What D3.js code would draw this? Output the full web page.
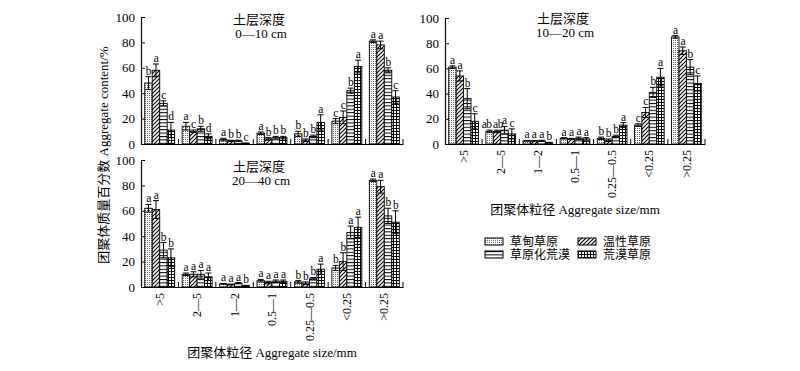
<!DOCTYPE html>
<html>
<head>
<meta charset="utf-8">
<script src="https://cdn.jsdelivr.net/npm/d3@7"></script>
<style>
body { margin: 0; background: #fff; }
text { font-family: "Liberation Serif", "Noto Sans CJK SC", serif; fill: #000; }
</style>
</head>
<body>
<svg id="drawing_region" width="800" height="371"></svg>
<script>
// categories
const sizes = [">5", "2—5", "1—2", "0.5—1", "0.25—0.5", "<0.25", ">0.25"];
const types = ["草甸草原", "温性草原", "草原化荒漠", "荒漠草原"];
const depths = ["0—10 cm", "10—20 cm", "20—40 cm"];
const yticks = [0, 20, 40, 60, 80, 100];

// 0-10 cm, one row per grassland type
const val_0_10 = [
    [48, 14, 3.5, 8.5, 8, 18, 81],
    [58, 10, 2.5, 4, 3, 21, 78],
    [32, 12, 2.5, 5, 6, 42, 58],
    [11, 6, 0.5, 5, 17, 61, 37]
];
const err_0_10 = [
    [5, 3, 1, 1, 2, 2, 1],
    [5, 1, 0.5, 1, 1, 5, 3],
    [2, 2, 0.5, 1, 1, 2, 2],
    [6, 2, 0.3, 1, 6, 5, 5]
];
const sig_0_10 = [
    ["b", "a", "a", "a", "b", "c", "a"],
    ["a", "c", "b", "b", "b", "c", "a"],
    ["c", "b", "b", "b", "b", "b", "b"],
    ["d", "d", "c", "b", "a", "a", "c"]
];

// 10-20 cm
const val_10_20 = [
    [61, 10, 2.5, 4.5, 4.5, 15, 85],
    [54, 10, 2.5, 4, 3, 25, 74],
    [36, 11, 2.5, 4.5, 6, 41, 61],
    [18, 8, 1, 4, 15, 53, 48]
];
const err_10_20 = [
    [1, 1, 0.3, 0.5, 1, 1, 1],
    [4, 1, 0.3, 0.5, 1, 4, 3],
    [8, 3, 0.5, 1, 1, 4, 6],
    [6, 4, 0.3, 1, 2, 7, 6]
];
const sig_10_20 = [
    ["a", "ab", "a", "a", "b", "c", "a"],
    ["a", "ab", "a", "a", "b", "c", "a"],
    ["b", "a", "a", "a", "b", "b", "b"],
    ["c", "c", "b", "a", "a", "a", "c"]
];

// 20-40 cm
const val_20_40 = [
    [62, 10, 2.5, 5, 4, 15, 84],
    [61, 10, 2, 3.5, 3, 20, 79],
    [29, 10, 3, 4.5, 6.5, 43, 56],
    [23, 8, 1, 4.5, 14, 47, 51]
];
const err_20_40 = [
    [3, 1, 0.3, 1, 1, 2, 1],
    [7, 2, 0.3, 1, 1, 7, 5],
    [6, 3, 0.5, 1, 1, 5, 6],
    [7, 3, 0.3, 1, 4, 8, 9]
];
const sig_20_40 = [
    ["a", "a", "a", "a", "b", "b", "a"],
    ["a", "a", "a", "a", "b", "b", "a"],
    ["b", "a", "a", "a", "b", "a", "b"],
    ["b", "a", "b", "a", "a", "a", "b"]
];

var svg = d3.select('#drawing_region');
var defs = svg.append('defs');

// fill patterns for the 4 types
function makePattern(id, w, h, draw) {
    var p = defs.append('pattern')
        .attr('id', id)
        .attr('patternUnits', 'userSpaceOnUse')
        .attr('width', w)
        .attr('height', h);
    p.append('rect').attr('width', w).attr('height', h).attr('fill', '#fff');
    draw(p);
}
makePattern('pat0', 2, 2, p => {
    p.append('rect').attr('x', 0).attr('y', 0).attr('width', 1).attr('height', 1).attr('fill', '#666');
});
makePattern('pat1', 4, 4, p => {
    p.append('path').attr('d', 'M-1,1 L1,-1 M0,4 L4,0 M3,5 L5,3')
        .attr('stroke', '#000').attr('stroke-width', 1.1);
});
makePattern('pat2', 4, 3.4, p => {
    p.append('line').attr('x1', 0).attr('x2', 4).attr('y1', 0.5).attr('y2', 0.5)
        .attr('stroke', '#000').attr('stroke-width', 1);
});
makePattern('pat3', 3, 3, p => {
    p.append('path').attr('d', 'M0,0.5 H3 M0.5,0 V3')
        .attr('stroke', '#000').attr('stroke-width', 1);
});
const fills = types.map((t, i) => `url(#pat${i})`);

const panels = [
    { depth: depths[0], vals: val_0_10, errs: err_0_10, sigs: sig_0_10, left: 141, top: 17, w: 262, h: 127, titleY: 24, ticks: false },
    { depth: depths[1], vals: val_10_20, errs: err_10_20, sigs: sig_10_20, left: 445, top: 18, w: 260, h: 126, titleY: 23, ticks: true },
    { depth: depths[2], vals: val_20_40, errs: err_20_40, sigs: sig_20_40, left: 141, top: 160, w: 262, h: 127, titleY: 171, ticks: true }
];

panels.forEach(pn => {
    var chart = svg.append('g')
        .attr('transform', `translate(${pn.left}, ${pn.top})`);

    const xscale = d3.scaleBand()
        .domain(sizes)
        .range([0, pn.w]);

    const x1 = d3.scaleBand()
        .domain(types)
        .range([0, xscale.bandwidth()])
        .paddingOuter(0.5);

    const yscale = d3.scaleLinear()
        .domain([0, 100])
        .range([pn.h, 0]);

    // rows of {size, type, value, err, sig}
    var rows = [];
    types.forEach((t, ti) => {
        sizes.forEach((s, si) => {
            rows.push({ size: s, type: t, ti: ti, value: pn.vals[ti][si], err: pn.errs[ti][si], sig: pn.sigs[ti][si] });
        });
    });

    chart.selectAll('rect.bar')
        .data(rows)
        .join('rect')
        .attr('class', 'bar')
        .attr('x', d => xscale(d.size) + x1(d.type))
        .attr('y', d => yscale(d.value))
        .attr('width', x1.bandwidth())
        .attr('height', d => pn.h - yscale(d.value))
        .attr('fill', d => fills[d.ti])
        .attr('stroke', '#000')
        .attr('stroke-width', 0.9);

    // error bars
    var eb = chart.selectAll('g.err')
        .data(rows)
        .join('g')
        .attr('class', 'err')
        .attr('transform', d => `translate(${xscale(d.size) + x1(d.type) + x1.bandwidth() / 2}, 0)`);
    eb.append('line')
        .attr('y1', d => yscale(Math.max(0, d.value - d.err)))
        .attr('y2', d => yscale(d.value + d.err))
        .attr('stroke', '#000').attr('stroke-width', 1);
    eb.append('line')
        .attr('x1', -3).attr('x2', 3)
        .attr('y1', d => yscale(d.value + d.err))
        .attr('y2', d => yscale(d.value + d.err))
        .attr('stroke', '#000').attr('stroke-width', 1);
    eb.append('line')
        .attr('x1', -3).attr('x2', 3)
        .attr('y1', d => yscale(Math.max(0, d.value - d.err)))
        .attr('y2', d => yscale(Math.max(0, d.value - d.err)))
        .attr('stroke', '#000').attr('stroke-width', 1);

    // significance letters (two-letter marks nudged apart)
    chart.selectAll('text.sig')
        .data(rows)
        .join('text')
        .attr('class', 'sig')
        .attr('x', d => xscale(d.size) + x1(d.type) + x1.bandwidth() / 2)
        .attr('y', d => yscale(d.value + d.err) - 2)
        .attr('dx', d => d.sig.length > 1 ? (d.ti < 1 ? -3 : 1) : 0)
        .attr('text-anchor', 'middle')
        .attr('font-size', 11.5)
        .attr('letter-spacing', -0.5)
        .text(d => d.sig);

    // y axis
    const yaxis = d3.axisLeft(yscale)
        .tickValues(yticks)
        .tickSize(-4)
        .tickPadding(6)
        .tickSizeOuter(0);
    const yaxis_group = chart.append('g').call(yaxis);
    yaxis_group.select('.domain').attr('stroke-width', 1.2);
    yaxis_group.selectAll('text').attr('font-size', 13).attr('font-family', '"Liberation Serif", serif');

    // x axis: baseline with inward ticks at group borders
    const xaxis = d3.axisBottom(xscale).tickSize(0).tickSizeOuter(0).tickPadding(6);
    const xaxis_group = chart.append('g')
        .attr('transform', `translate(0, ${pn.h})`)
        .call(xaxis);
    xaxis_group.select('.domain').attr('stroke-width', 1.2);
    if (pn.ticks) {
        xaxis_group.selectAll('.tick text')
            .attr('transform', 'rotate(-90)')
            .attr('text-anchor', 'end')
            .attr('x', -6)
            .attr('y', 0)
            .attr('dy', '0.35em')
            .attr('font-size', 12)
            .attr('font-family', '"Liberation Serif", serif');
    } else {
        xaxis_group.selectAll('.tick text').remove();
    }
    chart.selectAll('line.sep')
        .data(sizes)
        .join('line')
        .attr('class', 'sep')
        .attr('x1', d => xscale(d) + xscale.bandwidth())
        .attr('x2', d => xscale(d) + xscale.bandwidth())
        .attr('y1', pn.h)
        .attr('y2', pn.h - 5)
        .attr('stroke', '#000');

    // panel title
    svg.append('text')
        .attr('x', pn.left + 118)
        .attr('y', pn.titleY)
        .attr('text-anchor', 'middle')
        .attr('font-size', 13)
        .text('土层深度');
    svg.append('text')
        .attr('x', pn.left + 120)
        .attr('y', pn.titleY + 14)
        .attr('text-anchor', 'middle')
        .attr('font-size', 13)
        .text(pn.depth);

    if (pn.ticks) {
        svg.append('text')
            .attr('x', pn.left + pn.w / 2)
            .attr('y', pn.top + pn.h + 70)
            .attr('text-anchor', 'middle')
            .attr('font-size', 13)
            .text('团聚体粒径 Aggregate size/mm');
    }
});

// y title
svg.append('text')
    .attr('transform', 'translate(108, 155) rotate(-90)')
    .attr('text-anchor', 'middle')
    .attr('font-size', 13)
    .text('团聚体质量百分数 Aggregate content/%');

// legend
var legend = svg.selectAll('g.legend')
    .data(types)
    .join('g')
    .attr('class', 'legend')
    .attr('transform', (d, i) => `translate(${485 + (i % 2) * 93}, ${238 + Math.floor(i / 2) * 13})`);
legend.append('rect')
    .attr('width', 18)
    .attr('height', 7)
    .attr('fill', (d, i) => fills[i])
    .attr('stroke', '#000')
    .attr('stroke-width', 1);
legend.append('text')
    .attr('x', 25)
    .attr('y', 8)
    .attr('font-size', 12)
    .text(d => d);
</script>
</body>
</html>
